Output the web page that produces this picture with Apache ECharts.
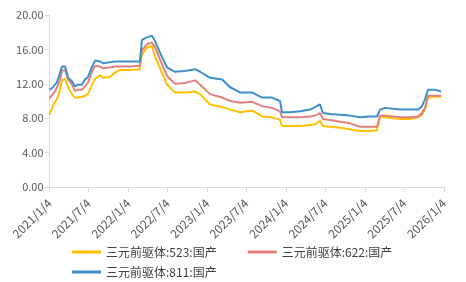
<!DOCTYPE html>
<html><head><meta charset="utf-8">
<script src="https://cdn.jsdelivr.net/npm/echarts@6/dist/echarts.min.js"></script>
<style>html,body{margin:0;padding:0;background:#fff}#c{width:466px;height:282px}</style>
</head><body><div id="c"></div>
<script>
var dates = ['2021-01-04','2021-01-20','2021-01-29','2021-02-08','2021-02-22','2021-03-03','2021-03-17','2021-03-31','2021-04-18','2021-05-02','2021-05-16','2021-06-03','2021-06-17','2021-07-01','2021-07-20','2021-08-03','2021-08-26','2021-09-09','2021-10-11','2021-11-03','2021-11-26','2022-01-11','2022-02-26','2022-03-08','2022-03-31','2022-04-23','2022-05-07','2022-05-31','2022-07-02','2022-08-08','2022-09-23','2022-11-09','2022-12-02','2023-01-17','2023-03-14','2023-04-20','2023-06-05','2023-07-30','2023-09-15','2023-10-31','2023-12-07','2023-12-16','2024-01-22','2024-03-09','2024-04-24','2024-05-17','2024-06-09','2024-06-23','2024-07-25','2024-09-10','2024-10-26','2024-12-11','2025-01-26','2025-02-28','2025-03-14','2025-04-06','2025-06-15','2025-07-31','2025-09-06','2025-09-24','2025-10-08','2025-10-22','2025-11-24','2025-12-22'];
var v523 = [8.4,9.4,9.9,10.2,11.3,12.4,12.6,11.6,10.8,10.4,10.4,10.5,10.6,10.8,11.9,12.6,13.0,12.7,12.8,13.3,13.6,13.6,13.7,15.4,16.2,16.4,15.2,13.8,11.9,11.0,11.0,11.1,10.8,9.6,9.3,9.0,8.7,8.9,8.2,8.1,7.8,7.1,7.1,7.1,7.2,7.3,7.7,7.1,7.0,6.9,6.7,6.5,6.5,6.6,8.2,8.1,7.9,7.9,8.1,8.4,9.0,10.4,10.5,10.5];
var v622 = [10.3,10.8,11.1,11.6,12.5,13.5,13.6,12.5,11.9,11.2,11.3,11.3,11.7,12.1,13.4,14.1,14.0,13.8,13.9,14.0,14.0,14.0,14.1,15.9,16.6,16.8,16.3,14.8,12.9,12.0,12.1,12.4,11.9,10.8,10.4,10.0,9.8,9.9,9.4,9.2,8.8,8.1,8.1,8.1,8.2,8.3,8.6,7.9,7.8,7.6,7.4,7.0,7.0,7.0,8.3,8.3,8.1,8.1,8.2,8.6,9.2,10.6,10.6,10.6];
var v811 = [11.3,11.6,11.9,12.2,13.3,14.0,14.0,12.7,12.3,11.7,11.9,11.9,12.5,12.8,14.0,14.7,14.6,14.4,14.5,14.6,14.6,14.6,14.6,17.1,17.4,17.6,17.0,15.6,13.9,13.4,13.5,13.7,13.4,12.7,12.5,11.6,11.0,11.0,10.4,10.4,10.0,8.7,8.7,8.8,9.0,9.3,9.6,8.6,8.5,8.4,8.3,8.1,8.2,8.2,9.0,9.2,9.0,9.0,9.0,9.4,10.2,11.3,11.3,11.1];
var names = ['三元前驱体:523:国产','三元前驱体:622:国产','三元前驱体:811:国产'];
var tickDates = ['2021-01-04','2021-07-04','2022-01-04','2022-07-04','2023-01-04','2023-07-04','2024-01-04','2024-07-04','2025-01-04','2025-07-04','2026-01-04'];
var colors = ['#FFC000','#E3807D','#3D8FCB'];

function ts(s){var p=s.split('-');return Date.UTC(+p[0],+p[1]-1,+p[2]);}
function pairs(vals){return dates.map(function(d,i){return [ts(d),vals[i]];});}
var tickTs = tickDates.map(ts);
var font = '"Noto Sans CJK SC", "Liberation Sans", sans-serif';
var chart = echarts.init(document.getElementById('c'));
chart.setOption({
  animation:false,
  textStyle:{fontFamily:font},
  grid:{left:49.5,right:22,top:15,bottom:95,containLabel:false},
  legend:[{
    data:[names[0],names[1]],left:67,top:241,itemWidth:29,itemHeight:3,itemGap:31,
    icon:'rect',
    textStyle:{fontSize:12,color:'#404040',fontFamily:font}
  },{
    data:[names[2]],left:67,top:261,itemWidth:29,itemHeight:3,
    icon:'rect',
    textStyle:{fontSize:12,color:'#404040',fontFamily:font}
  }],
  xAxis:{
    type:'value',min:tickTs[0],max:tickTs[tickTs.length-1],scale:true,
    axisLine:{lineStyle:{color:'#D9D9D9'}},
    axisTick:{show:true,customValues:tickTs,length:5,lineStyle:{color:'#D9D9D9'}},
    axisLabel:{customValues:tickTs,rotate:45,fontSize:12,color:'#595959',margin:14,
      formatter:function(v){var d=new Date(v);return d.getUTCFullYear()+'/'+(d.getUTCMonth()+1)+'/'+d.getUTCDate();}},
    splitLine:{show:false}
  },
  yAxis:{
    type:'value',min:0,max:20,interval:4,
    axisLine:{show:true,lineStyle:{color:'#D9D9D9'}},
    axisTick:{show:true,length:5,lineStyle:{color:'#D9D9D9'}},
    axisLabel:{fontSize:11,color:'#595959',margin:6,formatter:function(v){return v.toFixed(2);}},
    splitLine:{show:false}
  },
  series:[v523,v622,v811].map(function(v,i){
    return {name:names[i],type:'line',data:pairs(v),showSymbol:false,symbol:'none',
      lineStyle:{width:2,color:colors[i]},itemStyle:{color:colors[i]}};
  })
});
</script></body></html>
